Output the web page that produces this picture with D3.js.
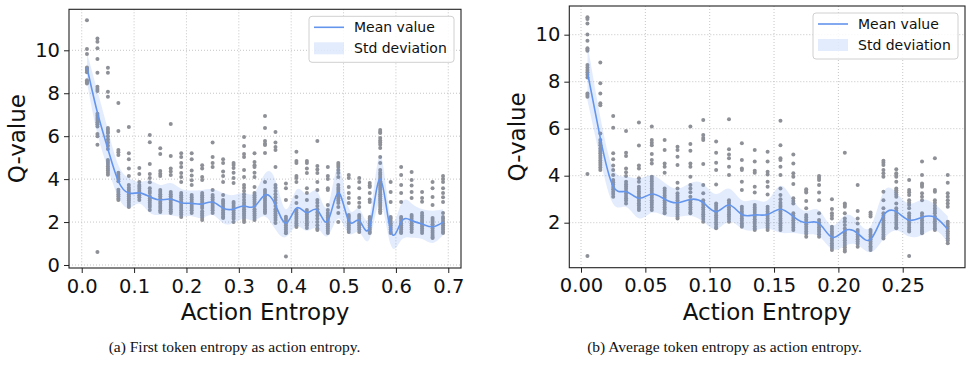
<!DOCTYPE html>
<html>
<head>
<meta charset="utf-8">
<script src="https://cdn.jsdelivr.net/npm/d3@7"></script>
<style>
    body { margin: 0; background: #ffffff; }
    svg { display: block; }
</style>
</head>
<body>
<div id="chart"></div>
<script>
// ---- data ----

// (a) first token entropy
var entropyA = [0.01, 0.03, 0.05, 0.07, 0.09, 0.11, 0.13, 0.15, 0.17, 0.19, 0.21, 0.23, 0.25, 0.27, 0.29,
    0.31, 0.33, 0.35, 0.37, 0.39, 0.41, 0.43, 0.45, 0.47, 0.49, 0.51, 0.53, 0.55, 0.57, 0.59,
    0.61, 0.63, 0.65, 0.67, 0.69];
var meanA = [9.2, 7.1, 5.4, 3.9, 3.35, 3.36, 3.18, 3.03, 3.07, 2.9, 2.87, 2.84, 2.93, 2.65, 2.61,
    2.75, 2.73, 3.26, 2.8, 1.95, 2.65, 2.44, 2.56, 2.05, 3.36, 2.05, 2.07, 1.78, 4.0, 1.6,
    2.0, 2.07, 1.91, 1.78, 2.0];
var stdA = [0.7, 1.0, 0.9, 0.75, 0.7, 0.5, 0.75, 0.7, 0.75, 0.65, 0.6, 0.65, 0.6, 0.7, 0.65,
    0.6, 0.65, 1.0, 1.15, 0.65, 0.85, 0.85, 0.85, 0.7, 1.2, 0.6, 0.55, 0.55, 1.1, 0.65,
    0.85, 0.8, 0.7, 0.75, 0.6];
var pointsA = [
    [11.4, 10.06, 9.83, 9.2, 9.15, 9.1, 9.05, 8.98, 8.6, 8.55, 8.5, 8.45],
    [10.55, 10.4, 10.1, 9.6, 8.95, 8.3, 8.2, 8.1, 7.05, 6.95, 6.85, 6.75, 6.65, 6.55, 6.45, 6.1, 6.0, 5.6, 0.6],
    [9.19, 8.96, 8.07, 7.84, 6.38, 6.3, 6.2, 6.15, 6.0, 5.85, 5.7, 5.55, 5.4, 4.89, 4.8, 4.7, 4.6, 4.5, 4.4, 4.3, 4.2],
    [7.54, 6.24, 5.36, 5.25, 5.12, 4.3, 4.2, 4.1, 4.0, 3.9, 3.5, 3.4, 3.3, 3.2, 3.1, 3.03],
    [6.43, 5.2, 4.93, 4.5, 4.14, 3.73, 3.6, 3.5, 3.4, 3.3, 3.2, 3.1, 3.0, 2.9, 2.8, 2.7],
    [4.52, 4.24, 3.87, 3.73, 3.65, 3.55, 3.45, 3.35, 3.25, 3.15, 3.03],
    [6.05, 5.72, 4.7, 4.24, 4.05, 3.85, 3.58, 3.45, 3.35, 3.2, 3.1, 3.0, 2.9, 2.8, 2.7, 2.56],
    [5.44, 5.17, 4.38, 4.25, 4.14, 3.49, 3.4, 3.3, 3.2, 3.1, 2.95, 2.85, 2.75, 2.65, 2.55, 2.47],
    [6.57, 5.08, 4.5, 4.35, 4.19, 3.4, 3.3, 3.2, 3.1, 3.0, 2.9, 2.8, 2.7, 2.6, 2.5, 2.42],
    [5.2, 5.03, 4.75, 4.56, 4.28, 4.1, 3.87, 3.35, 3.25, 3.15, 3.05, 2.95, 2.85, 2.75, 2.65, 2.55, 2.45, 2.35, 2.24],
    [5.2, 4.93, 4.4, 4.17, 3.95, 3.73, 3.26, 3.15, 3.05, 2.95, 2.85, 2.75, 2.65, 2.55, 2.42],
    [4.65, 4.5, 4.1, 3.96, 3.35, 3.25, 3.15, 3.05, 2.95, 2.85, 2.75, 2.65, 2.5, 2.4, 2.3, 2.2, 2.1],
    [5.7, 5.03, 4.75, 4.56, 3.49, 3.26, 3.15, 3.05, 2.95, 2.85, 2.75, 2.65, 2.55, 2.42],
    [4.93, 4.75, 4.35, 4.14, 3.87, 3.26, 3.03, 2.95, 2.85, 2.75, 2.65, 2.55, 2.45, 2.35, 2.25, 2.19],
    [4.75, 4.66, 4.52, 4.3, 4.05, 3.82, 2.93, 2.85, 2.75, 2.65, 2.55, 2.45, 2.35, 2.25, 2.15, 2.0],
    [5.96, 5.54, 5.17, 5.03, 4.42, 4.1, 3.73, 3.6, 3.45, 3.3, 3.17, 3.03, 2.9, 2.8, 2.7, 2.6, 2.5, 2.4, 2.3, 2.2, 2.1, 2.0],
    [5.2, 4.8, 4.65, 4.56, 4.3, 4.1, 3.63, 3.35, 3.25, 3.15, 3.05, 2.95, 2.85, 2.75, 2.6, 2.5, 2.4, 2.3, 2.2, 2.1],
    [6.94, 6.38, 5.78, 5.65, 5.59, 5.22, 3.87, 3.49, 3.4, 3.3, 3.2, 3.1, 3.0, 2.9, 2.8, 2.7, 2.6, 2.5, 2.42],
    [6.2, 5.7, 5.5, 5.36, 4.56, 3.73, 3.6, 3.45, 3.3, 3.15, 3.03, 2.89, 2.75, 2.6, 2.5, 2.4, 2.3, 2.2, 2.1, 1.96],
    [3.8, 3.57, 3.03, 2.25, 2.15, 2.05, 1.95, 1.85, 1.75, 1.65, 1.55, 1.48, 0.39],
    [5.27, 4.84, 4.75, 4.14, 4.05, 3.87, 3.17, 2.89, 2.56, 2.45, 2.35, 2.25, 2.15, 2.05, 1.95, 1.85, 1.77],
    [4.84, 4.75, 4.5, 4.28, 3.58, 3.35, 3.03, 2.56, 2.45, 2.35, 2.25, 2.15, 2.05, 1.95, 1.85, 1.72],
    [5.78, 4.61, 4.45, 4.28, 3.87, 3.49, 3.03, 2.9, 2.75, 2.6, 2.45, 2.3, 2.15, 2.0, 1.85, 1.7, 1.63],
    [4.56, 4.14, 4.0, 3.58, 3.49, 2.79, 2.56, 2.42, 2.3, 2.2, 2.1, 2.0, 1.9, 1.8, 1.7, 1.6, 1.49],
    [4.75, 4.66, 4.56, 4.42, 4.28, 4.1, 3.73, 3.6, 3.5, 3.4, 3.3, 3.2, 3.1, 3.0, 2.89, 2.7, 2.42, 2.0],
    [4.19, 4.05, 3.63, 3.35, 3.12, 2.89, 2.33, 2.25, 2.15, 2.05, 1.95, 1.85, 1.75, 1.65, 1.54],
    [4.05, 3.87, 3.58, 3.12, 2.9, 2.7, 2.33, 2.25, 2.15, 2.05, 1.95, 1.85, 1.75, 1.65, 1.54],
    [3.82, 3.7, 3.63, 3.35, 3.05, 2.93, 2.24, 2.15, 2.05, 1.95, 1.85, 1.75, 1.65, 1.55, 1.49],
    [6.29, 6.2, 6.15, 5.91, 5.8, 5.7, 5.6, 5.45, 5.03, 4.75, 4.42, 4.3, 4.2, 4.1, 4.0, 3.9, 3.8, 3.7, 3.6,
        3.5, 3.4, 3.3, 3.2, 3.1, 3.0, 2.9, 2.8, 2.7, 2.6, 2.5, 2.42],
    [3.87, 3.4, 2.93, 2.24, 2.15, 2.05, 1.95, 1.85, 1.75, 1.65, 1.55, 1.49],
    [4.56, 4.19, 3.73, 3.35, 2.93, 2.24, 2.15, 2.05, 1.95, 1.85, 1.75, 1.65, 1.55, 1.49],
    [4.33, 3.96, 3.7, 3.4, 3.12, 2.33, 2.25, 2.15, 2.05, 1.95, 1.85, 1.75, 1.65, 1.54],
    [3.4, 3.12, 2.95, 2.42, 2.3, 2.2, 2.1, 2.0, 1.9, 1.8, 1.7, 1.6, 1.49],
    [3.87, 3.58, 3.17, 2.79, 2.19, 2.1, 2.0, 1.9, 1.8, 1.7, 1.6, 1.5, 1.4, 1.3, 1.26],
    [4.14, 4.0, 3.87, 3.58, 3.35, 3.15, 2.93, 2.42, 2.24, 2.15, 2.05, 1.95, 1.85, 1.75, 1.65, 1.55, 1.49]
];
var xTicksA = [0, 0.1, 0.2, 0.3, 0.4, 0.5, 0.6, 0.7];
var xTickLabelsA = ["0.0", "0.1", "0.2", "0.3", "0.4", "0.5", "0.6", "0.7"];
var yTicksA = [0, 2, 4, 6, 8, 10];

// (b) average token entropy
var entropyB = [0.005, 0.015, 0.025, 0.035, 0.045, 0.055, 0.065, 0.075, 0.085, 0.095, 0.105, 0.115, 0.125,
    0.135, 0.145, 0.155, 0.165, 0.175, 0.185, 0.195, 0.205, 0.215, 0.225, 0.235, 0.245, 0.255,
    0.265, 0.275, 0.285];
var meanB = [8.4, 5.6, 3.55, 3.32, 3.04, 3.22, 3.0, 2.85, 2.99, 2.85, 2.47, 2.75, 2.35,
    2.33, 2.35, 2.57, 2.26, 2.0, 1.97, 1.38, 1.66, 1.55, 1.29, 2.3, 2.47, 2.11,
    2.23, 2.23, 1.72];
var stdB = [1.2, 0.9, 0.75, 0.65, 0.85, 0.8, 0.7, 0.6, 0.7, 0.8, 0.75, 0.7, 0.6,
    0.65, 0.6, 1.0, 0.7, 0.5, 0.55, 0.5, 0.65, 0.5, 0.55, 1.0, 0.8, 0.7,
    0.75, 0.55, 0.55];
var pointsB = [
    [10.74, 10.67, 10.48, 10.01, 9.74, 9.42, 9.36, 9.32, 8.71, 8.6, 8.5, 8.4, 8.3, 8.18, 7.5, 7.43, 7.36, 4.07, 0.58],
    [8.82, 7.93, 7.5, 7.08, 7.0, 5.8, 5.52, 5.4, 5.3, 5.16, 5.05, 4.95, 4.85, 4.75, 4.65, 4.55, 4.45, 4.35, 4.24],
    [6.54, 6.04, 4.95, 4.7, 4.43, 4.24, 4.03, 3.82, 3.72, 3.62, 3.52, 3.42, 3.32, 3.22, 3.1],
    [5.9, 4.98, 4.84, 4.31, 4.15, 3.99, 3.74, 3.64, 3.54, 3.44, 3.34, 3.24, 3.14, 3.04, 2.94, 2.82],
    [6.26, 5.28, 4.43, 4.31, 3.89, 3.74, 3.53, 3.43, 3.33, 3.23, 3.13, 3.03, 2.93, 2.83, 2.73, 2.63, 2.54],
    [6.09, 5.52, 5.4, 5.3, 4.92, 4.67, 4.52, 3.96, 3.86, 3.76, 3.66, 3.56, 3.46, 3.36, 3.26, 3.16, 3.06, 2.96, 2.86, 2.76, 2.66, 2.54],
    [5.52, 5.09, 4.52, 4.38, 4.13, 3.46, 3.36, 3.26, 3.16, 3.06, 2.96, 2.86, 2.76, 2.66, 2.56, 2.46, 2.4],
    [5.23, 5.09, 4.81, 4.45, 3.7, 3.46, 3.25, 3.15, 3.05, 2.95, 2.85, 2.75, 2.65, 2.55, 2.45, 2.35, 2.25, 2.18],
    [6.09, 5.35, 5.06, 4.52, 4.38, 3.96, 3.6, 3.45, 3.3, 3.1, 2.96, 2.86, 2.76, 2.66, 2.56, 2.46, 2.4],
    [6.37, 5.73, 5.6, 5.52, 4.5, 3.6, 3.25, 2.96, 2.86, 2.76, 2.66, 2.56, 2.46, 2.36, 2.26, 2.16, 2.04],
    [5.45, 4.98, 4.55, 4.24, 3.63, 2.82, 2.72, 2.62, 2.52, 2.42, 2.32, 2.22, 2.12, 2.02, 1.92, 1.82, 1.76],
    [6.4, 5.13, 4.9, 4.74, 4.38, 4.03, 2.96, 2.86, 2.76, 2.66, 2.56, 2.46, 2.36, 2.26, 2.16, 2.04],
    [5.38, 4.67, 4.31, 4.24, 3.74, 3.39, 2.68, 2.58, 2.48, 2.38, 2.28, 2.18, 2.08, 1.98, 1.9, 1.83],
    [5.09, 4.6, 4.21, 4.13, 3.53, 3.28, 2.75, 2.65, 2.55, 2.45, 2.35, 2.25, 2.15, 2.05, 1.95, 1.85, 1.75, 1.69],
    [5.02, 4.6, 4.17, 4.05, 3.74, 3.53, 3.2, 2.68, 2.58, 2.48, 2.38, 2.28, 2.18, 2.08, 1.98, 1.88, 1.78, 1.69],
    [6.34, 5.3, 4.74, 4.67, 4.38, 4.03, 3.46, 3.18, 3.0, 2.85, 2.75, 2.68, 2.58, 2.48, 2.38, 2.28, 2.18, 2.08, 1.98, 1.88, 1.78, 1.69],
    [4.9, 4.52, 4.1, 3.96, 3.65, 3.04, 2.92, 2.82, 2.4, 2.3, 2.2, 2.1, 2.0, 1.9, 1.8, 1.69],
    [3.42, 3.35, 3.28, 2.92, 2.61, 2.33, 2.23, 2.13, 2.03, 1.93, 1.83, 1.73, 1.63, 1.53, 1.4],
    [3.99, 3.9, 3.82, 3.6, 3.28, 2.96, 2.4, 2.11, 2.01, 1.91, 1.81, 1.71, 1.61, 1.51, 1.4],
    [3.0, 2.58, 2.4, 2.3, 2.18, 1.83, 1.73, 1.63, 1.53, 1.43, 1.33, 1.23, 1.13, 1.03, 0.93, 0.84],
    [4.98, 2.82, 2.75, 2.68, 2.4, 2.18, 2.05, 1.9, 1.75, 1.62, 1.55, 1.45, 1.35, 1.25, 1.15, 1.05, 0.95, 0.85, 0.77],
    [3.6, 2.5, 2.18, 1.97, 1.69, 1.6, 1.5, 1.4, 1.3, 1.2, 1.1, 0.98],
    [2.43, 2.35, 2.26, 1.69, 1.6, 1.5, 1.4, 1.3, 1.2, 1.1, 1.0, 0.92, 0.84],
    [4.64, 4.55, 4.45, 4.24, 4.1, 3.96, 3.32, 2.96, 2.61, 2.4, 2.3, 2.2, 2.1, 2.0, 1.9, 1.8, 1.7, 1.6, 1.5, 1.4, 1.33],
    [4.27, 4.1, 4.03, 3.96, 3.74, 3.46, 3.38, 3.3, 3.2, 3.1, 2.82, 2.61, 2.51, 2.41, 2.31, 2.21, 2.11, 2.01, 1.91, 1.81, 1.76],
    [3.82, 3.39, 3.3, 3.18, 2.96, 2.85, 2.75, 2.61, 2.4, 2.3, 2.2, 2.1, 2.0, 1.9, 1.8, 1.7, 1.62, 0.58],
    [4.6, 4.03, 3.67, 3.6, 3.53, 3.25, 3.1, 2.96, 2.4, 2.3, 2.2, 2.1, 2.0, 1.9, 1.8, 1.7, 1.62, 1.55],
    [4.74, 3.39, 3.32, 2.96, 2.85, 2.72, 2.6, 2.5, 2.4, 2.26, 2.16, 2.06, 1.96, 1.86, 1.76, 1.69],
    [4.03, 3.7, 3.25, 3.1, 2.96, 2.82, 2.68, 2.04, 1.94, 1.84, 1.74, 1.64, 1.54, 1.44, 1.34, 1.24, 1.12]
];
var xTicksB = [0, 0.05, 0.1, 0.15, 0.2, 0.25];
var xTickLabelsB = ["0.00", "0.05", "0.10", "0.15", "0.20", "0.25"];
var yTicksB = [2, 4, 6, 8, 10];

var legendLabels = ["Mean value", "Std deviation"];
var captions = ["(a) First token entropy as action entropy.", "(b) Average token entropy as action entropy."];

// ---- drawing ----
var WIDTH = 972, HEIGHT = 381;
var LINE_COLOR = "#6495ed";
var POINT_COLOR = "#8e9097";
var SANS = "DejaVu Sans, sans-serif";

var svg = d3.select("#chart").append("svg")
    .attr("width", WIDTH).attr("height", HEIGHT)
    .style("background", "#ffffff");

/**
 * draws one scatter panel with its mean line and std band
 * @param cfg box, domains, data arrays and tick lists
 */
function drawPanel(cfg) {
    var x = d3.scaleLinear().domain(cfg.xDomain).range([cfg.left, cfg.right]);
    var y = d3.scaleLinear().domain(cfg.yDomain).range([cfg.bottom, cfg.top]);
    var g = svg.append("g");

    g.append("clipPath").attr("id", cfg.id + "-clip")
        .append("rect")
        .attr("x", cfg.left).attr("y", cfg.top)
        .attr("width", cfg.right - cfg.left).attr("height", cfg.bottom - cfg.top);

    // dotted grid
    var grid = g.append("g").attr("stroke", "#b8b8b8").attr("stroke-width", 0.8)
        .attr("stroke-dasharray", "1,2");
    grid.selectAll("line.vx").data(cfg.xTicks).enter().append("line")
        .attr("x1", function(d) { return x(d); }).attr("x2", function(d) { return x(d); })
        .attr("y1", cfg.top).attr("y2", cfg.bottom);
    grid.selectAll("line.hy").data(cfg.yTicks).enter().append("line")
        .attr("x1", cfg.left).attr("x2", cfg.right)
        .attr("y1", function(d) { return y(d); }).attr("y2", function(d) { return y(d); });

    // flatten the scatter points
    var pts = [];
    cfg.points.forEach(function(col, i) {
        col.forEach(function(v) { pts.push([cfg.xs[i], v]); });
    });
    g.append("g").selectAll("circle").data(pts).enter().append("circle")
        .attr("cx", function(d) { return x(d[0]); })
        .attr("cy", function(d) { return y(d[1]); })
        .attr("r", 2)
        .attr("fill", POINT_COLOR);

    var rows = cfg.xs.map(function(v, i) { return {x: v, m: cfg.mean[i], s: cfg.std[i]}; });

    var band = d3.area()
        .x(function(d) { return x(d.x); })
        .y0(function(d) { return y(d.m - d.s); })
        .y1(function(d) { return y(d.m + d.s); })
        .curve(d3.curveNatural);
    g.append("path").datum(rows)
        .attr("d", band)
        .attr("fill", LINE_COLOR).attr("fill-opacity", 0.18)
        .attr("clip-path", "url(#" + cfg.id + "-clip)");

    var line = d3.line()
        .x(function(d) { return x(d.x); })
        .y(function(d) { return y(d.m); })
        .curve(d3.curveNatural);
    g.append("path").datum(rows)
        .attr("d", line)
        .attr("fill", "none").attr("stroke", LINE_COLOR).attr("stroke-width", 1.6)
        .attr("clip-path", "url(#" + cfg.id + "-clip)");

    // axes
    var xAxis = d3.axisBottom(x).tickValues(cfg.xTicks)
        .tickFormat(function(d, i) { return cfg.xLabels[i]; })
        .tickSize(5).tickPadding(4);
    var gx = g.append("g").attr("transform", "translate(0," + cfg.bottom + ")").call(xAxis);
    var yAxis = d3.axisLeft(y).tickValues(cfg.yTicks).tickSize(5).tickPadding(4);
    var gy = g.append("g").attr("transform", "translate(" + cfg.left + ",0)").call(yAxis);
    [gx, gy].forEach(function(a) {
        a.select(".domain").remove();
        a.selectAll("text").attr("font-family", SANS).attr("font-size", 19.5).attr("fill", "#111");
        a.selectAll("line").attr("stroke", "#222").attr("stroke-width", 1);
    });
    gx.selectAll("text").attr("dy", "0.8em");

    // frame
    g.append("rect")
        .attr("x", cfg.left).attr("y", cfg.top)
        .attr("width", cfg.right - cfg.left).attr("height", cfg.bottom - cfg.top)
        .attr("fill", "none").attr("stroke", "#222").attr("stroke-width", 1.1);

    // axis titles
    g.append("text")
        .attr("x", (cfg.left + cfg.right) / 2).attr("y", 320)
        .attr("text-anchor", "middle")
        .attr("font-family", SANS).attr("font-size", 23).attr("fill", "#111")
        .text("Action Entropy");
    g.append("text")
        .attr("transform", "translate(" + cfg.yLabelX + "," + ((cfg.top + cfg.bottom) / 2) + ") rotate(-90)")
        .attr("text-anchor", "middle").attr("dy", "0.35em")
        .attr("font-family", SANS).attr("font-size", 23).attr("fill", "#111")
        .text("Q-value");

    // legend
    var lx = cfg.right - 152, ly = cfg.top + 7;
    var leg = g.append("g").attr("transform", "translate(" + lx + "," + ly + ")");
    leg.append("rect")
        .attr("width", 145).attr("height", 46).attr("rx", 3)
        .attr("fill", "#ffffff").attr("fill-opacity", 0.85)
        .attr("stroke", "#d0d0d0").attr("stroke-width", 1);
    leg.append("line")
        .attr("x1", 5).attr("x2", 35).attr("y1", 11).attr("y2", 11)
        .attr("stroke", LINE_COLOR).attr("stroke-width", 1.6);
    leg.append("rect")
        .attr("x", 5).attr("y", 26).attr("width", 30).attr("height", 12)
        .attr("fill", LINE_COLOR).attr("fill-opacity", 0.18);
    leg.selectAll("text").data(legendLabels).enter().append("text")
        .attr("x", 45).attr("y", function(d, i) { return 16 + i * 21; })
        .attr("font-family", SANS).attr("font-size", 14).attr("fill", "#111")
        .text(function(d) { return d; });

    // caption
    svg.append("text")
        .attr("x", cfg.captionX).attr("y", 352)
        .attr("text-anchor", "middle")
        .attr("font-family", "Liberation Serif, Times New Roman, serif")
        .attr("font-size", 15.5).attr("fill", "#111")
        .text(cfg.caption);
}

drawPanel({
    id: "pa", left: 69, right: 461, top: 9.3, bottom: 268,
    xDomain: [-0.0243, 0.7243], yDomain: [-0.14, 11.91],
    xs: entropyA, mean: meanA, std: stdA, points: pointsA,
    xTicks: xTicksA, xLabels: xTickLabelsA, yTicks: yTicksA,
    yLabelX: 17, captionX: 234.5, caption: captions[0]
});

drawPanel({
    id: "pb", left: 569.3, right: 965, top: 6, bottom: 267.7,
    xDomain: [-0.0091, 0.2984], yDomain: [0.085, 11.22],
    xs: entropyB, mean: meanB, std: stdB, points: pointsB,
    xTicks: xTicksB, xLabels: xTickLabelsB, yTicks: yTicksB,
    yLabelX: 517, captionX: 724.5, caption: captions[1]
});
</script>
</body>
</html>
